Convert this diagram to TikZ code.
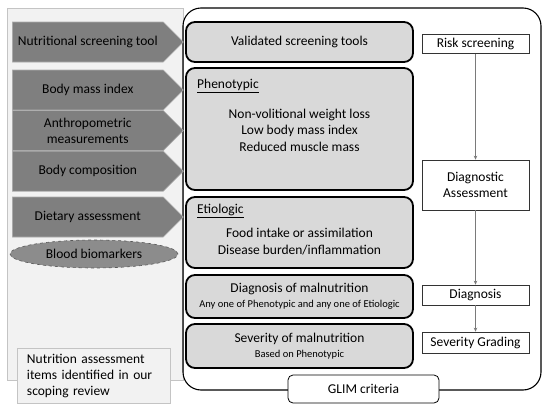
\documentclass[tikz,border=0pt]{standalone}
\usepackage{fontspec}
\setmainfont{Carlito}
\usepackage{xcolor}
\usepackage{tikz}
\usetikzlibrary{arrows.meta,positioning,calc,shapes.symbols,shapes.geometric}
\definecolor{PanelGray}{HTML}{F2F2F2}
\definecolor{PanelLine}{HTML}{C4C4C4}
\definecolor{ToolGray}{HTML}{7F7F7F}
\definecolor{ToolLine}{HTML}{ADADAD}
\definecolor{MarkerGray}{HTML}{8C8C8C}
\definecolor{BoxGray}{HTML}{D9D9D9}
\definecolor{ArrowGray}{HTML}{7A7A7A}

\begin{document}
\begin{tikzpicture}[
  x=1pt,y=-1pt,
  node distance=0pt,
  tool/.style={signal,signal to=east,signal pointer angle=90,draw=ToolLine,fill=ToolGray,line width=0.6pt,minimum width=171pt,minimum height=40pt,inner sep=0pt,align=center,font=\fontsize{13.5}{16}\selectfont},
  crit/.style={draw=black,line width=1.8pt,rounded corners=9pt,fill=BoxGray,minimum width=227pt,align=center,font=\fontsize{13.5}{15}\selectfont},
  stage/.style={draw=black!80,line width=0.6pt,fill=white,minimum width=107pt,align=center,font=\fontsize{13.5}{16}\selectfont},
  head/.style={anchor=west,inner sep=0pt,font=\fontsize{13.5}{16}\selectfont},
  body/.style={align=center,font=\fontsize{13.5}{16.5}\selectfont},
  arrow/.style={-{Stealth[length=4pt,width=3.5pt]},ArrowGray,line width=0.8pt}
]
\newcommand{\subtext}{\fontsize{10.5}{12}\selectfont}
\useasboundingbox (0,0) rectangle (550,410);
\draw[PanelLine,fill=PanelGray,line width=0.6pt] (7,8) rectangle (183,380);
\draw[line width=1.1pt,rounded corners=18pt] (183,8) rectangle (541,390);

% scoping review items
\node[tool,anchor=west] (screen) at (12,42) {Nutritional screening tool};
\node[tool,anchor=west] (bmi) at (12,90) {Body mass index};
\node[tool,below=of bmi] (anthro) {Anthropometric\\measurements};
\node[tool,below=of anthro] (comp) {Body composition};
\node[tool,anchor=west] (diet) at (12,217) {Dietary assessment};
\node[ellipse,draw=black!65,dashed,fill=MarkerGray,line width=0.6pt,minimum width=168pt,minimum height=28pt,inner sep=0pt,font=\fontsize{13.5}{16}\selectfont] (blood) at (94,254) {Blood biomarkers};
\node[draw=PanelLine,fill=PanelGray,line width=0.6pt,text width=133pt,inner xsep=10pt,minimum height=55pt,align=left,font=\fontsize{13.5}{16}\selectfont] (note) at (93.5,375.5) {Nutrition assessment\\items identified in our\\scoping review};

% GLIM criteria
\node[crit,minimum height=40pt] (valid) at (299.5,42) {Validated screening tools};
\node[crit,minimum height=122pt] (pheno) at (299.5,129) {};
\node[head] (phenohead) at (197,86) {\underline{Phenotypic}};
\node[body] (phenotxt) at (299.5,130) {Non-volitional weight loss\\Low body mass index\\Reduced muscle mass};
\node[crit,minimum height=71pt] (etio) at (299.5,232.5) {};
\node[head] (etiohead) at (197,211) {\underline{Etiologic}};
\node[body] (etiotxt) at (299.5,241.5) {Food intake or assimilation\\Disease burden/inflammation};
\node[crit,minimum height=43pt] (diag) at (299.5,296.5) {Diagnosis of malnutrition\\{\subtext Any one of Phenotypic and any one of Etiologic}};
\node[crit,minimum height=44pt] (sev) at (299.5,346) {Severity of malnutrition\\{\subtext Based on Phenotypic}};

\node[stage,minimum height=19pt] (risk) at (475.5,44) {Risk screening};
\node[stage,minimum height=50pt] (assess) at (475.5,185) {Diagnostic\\Assessment};
\node[stage,minimum height=20pt] (dx) at (475.5,295) {Diagnosis};
\node[stage,minimum height=21pt] (grade) at (475.5,342.5) {Severity Grading};
\draw[arrow] (risk) -- (assess);
\draw[arrow] (assess) -- (dx);
\draw[arrow] (dx) -- (grade);

\node[draw,line width=0.8pt,rounded corners=5pt,fill=white,minimum width=151pt,minimum height=28pt,font=\fontsize{13.5}{16}\selectfont] (glim) at (363.5,389) {GLIM criteria};
\end{tikzpicture}
\end{document}
